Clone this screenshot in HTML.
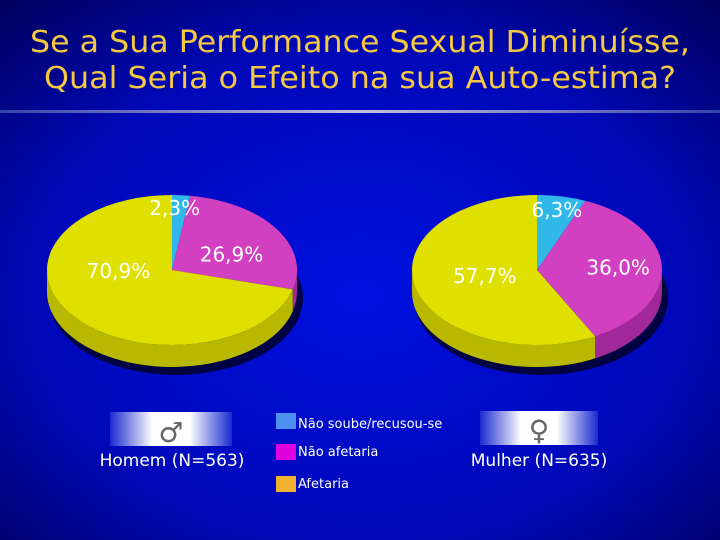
<!DOCTYPE html>
<html><head><meta charset="utf-8"><style>
html,body{margin:0;padding:0;background:#0000aa}
svg{display:block}
text{font-family:"DejaVu Sans","Liberation Sans",sans-serif}
</style></head><body>
<svg id="chart" width="720" height="540" viewBox="0 0 720 540">
<defs>
<radialGradient id="bg" cx="0.5" cy="0.55" r="0.75">
<stop offset="0" stop-color="#0010e0"/><stop offset="0.6" stop-color="#0008b8"/><stop offset="1" stop-color="#00005a"/>
</radialGradient>
<linearGradient id="rule" x1="0" x2="1"><stop offset="0" stop-color="#3344aa"/><stop offset="0.5" stop-color="#c8c0e0"/><stop offset="1" stop-color="#3344aa"/></linearGradient>
<linearGradient id="sym" x1="0" x2="1"><stop offset="0" stop-color="#1a2ad0"/><stop offset="0.35" stop-color="#ffffff"/><stop offset="0.65" stop-color="#ffffff"/><stop offset="1" stop-color="#1a2ad0"/></linearGradient>
</defs>
<rect width="720" height="540" fill="url(#bg)"/>
<text x="360" y="52" text-anchor="middle" font-size="30" fill="#f5c842" textLength="660" lengthAdjust="spacingAndGlyphs">Se a Sua Performance Sexual Diminuísse,</text>
<text x="360" y="88" text-anchor="middle" font-size="30" fill="#f5c842" textLength="632" lengthAdjust="spacingAndGlyphs">Qual Seria o Efeito na sua Auto-estima?</text>
<rect x="0" y="110" width="720" height="3" fill="url(#rule)"/>
<g id="pies"></g>
<g>
<rect x="276" y="413" width="20" height="16" fill="#4d90f0"/>
<text x="298" y="428" font-size="13" fill="#fff">Não soube/recusou-se</text>
<rect x="276" y="444" width="20" height="16" fill="#e000e0"/>
<text x="298" y="456" font-size="13" fill="#fff">Não afetaria</text>
<rect x="276" y="476" width="20" height="16" fill="#f0b030"/>
<text x="298" y="488" font-size="13" fill="#fff">Afetaria</text>
</g>
<rect x="110" y="412" width="122" height="34" fill="url(#sym)"/>
<text x="171" y="442" text-anchor="middle" font-size="28" fill="#666">♂</text>
<text x="172" y="466" text-anchor="middle" font-size="17" fill="#fff">Homem (N=563)</text>
<rect x="480" y="411" width="118" height="34" fill="url(#sym)"/>
<text x="539" y="440" text-anchor="middle" font-size="28" fill="#666">♀</text>
<text x="539" y="466" text-anchor="middle" font-size="17" fill="#fff">Mulher (N=635)</text>
</svg>
<script>
const categories = ["Não soube/recusou-se", "Não afetaria", "Afetaria"];
const homemValues = [2.3, 26.9, 70.9];
const mulherValues = [6.3, 36.0, 57.7];
const valueLabels = [["2,3%","26,9%","70,9%"],["6,3%","36,0%","57,7%"]];
const topColors = ["#30b8e8","#d040c0","#e0e000"];
const sideColors = ["#2090c0","#a02898","#b8b800"];
const NS="http://www.w3.org/2000/svg";
const g=document.getElementById('pies');
function mk(tag,attrs){const e=document.createElementNS(NS,tag);for(const k in attrs)e.setAttribute(k,attrs[k]);return e;}
function drawPie(values,labels,cx,cy,rx,ry,depth,name,labelPos){
  const total=values.reduce((a,b)=>a+b,0);
  const pt=a=>[cx+rx*Math.sin(a),cy-ry*Math.cos(a)];
  const sh=mk('ellipse',{cx:cx+4,cy:cy+depth+6,rx:rx+2,ry:ry+2,fill:'#000020',opacity:0.8});
  
  
  g.appendChild(sh);
  let a0=0;const angles=values.map(v=>{const s=a0;a0+=v/total*2*Math.PI;return [s,a0];});
  angles.forEach(([s,e],i)=>{
    const lo=Math.max(s,Math.PI/2),hi=Math.min(e,3*Math.PI/2);
    if(hi<=lo)return;
    const p1=pt(lo),p2=pt(hi);
    const d=`M${p1[0]},${p1[1]} A${rx},${ry} 0 0 1 ${p2[0]},${p2[1]} L${p2[0]},${p2[1]+depth} A${rx},${ry} 0 0 0 ${p1[0]},${p1[1]+depth} Z`;
    const p=mk('path',{d,fill:sideColors[i]});
    
    
    g.appendChild(p);
  });
  angles.forEach(([s,e],i)=>{
    const p1=pt(s),p2=pt(e);const large=(e-s)>Math.PI?1:0;
    const p=mk('path',{d:`M${cx},${cy} L${p1[0]},${p1[1]} A${rx},${ry} 0 ${large} 1 ${p2[0]},${p2[1]} Z`,fill:topColors[i]});
    
    
    g.appendChild(p);
  });
  angles.forEach(([s,e],i)=>{
    const m=(s+e)/2;const f=labelPos[i];
    const t=mk('text',{x:cx+rx*f[0]*Math.sin(m),y:cy-ry*f[1]*Math.cos(m)+8,'text-anchor':'middle','font-size':20,fill:'#fff'});
    t.textContent=labels[i];
    
    
    g.appendChild(t);
  });
}
drawPie(homemValues,valueLabels[0],172,270,125,75,22,'homem-pie',[[0.3,0.84],[0.57,0.4],[0.54,0.0]]);
drawPie(mulherValues,valueLabels[1],537,270,125,75,22,'mulher-pie',[[0.81,0.83],[0.65,1.0],[0.43,0.27]]);
</script>
</body></html>
